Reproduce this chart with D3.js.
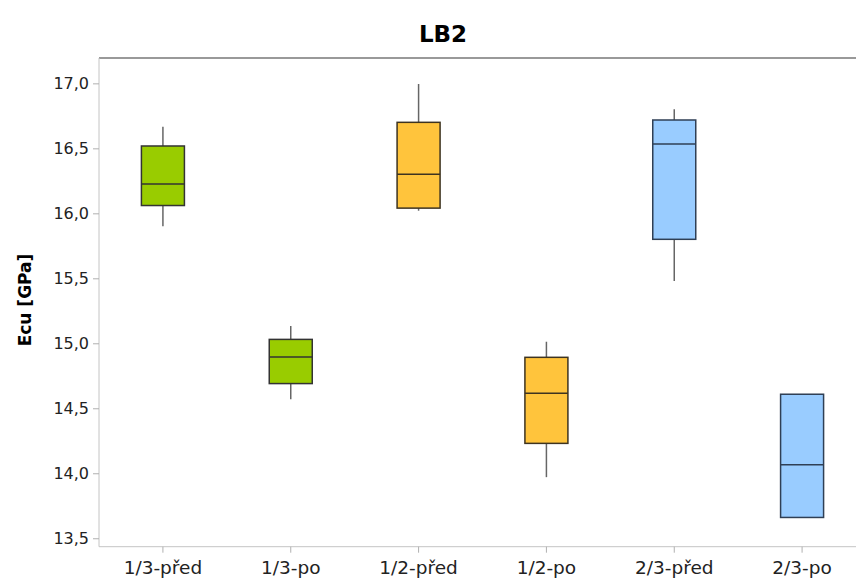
<!DOCTYPE html>
<html>
<head>
<meta charset="utf-8">
<script src="https://cdn.jsdelivr.net/npm/d3@7"></script>
<style>
  body { margin: 0; background: #fff; }
  svg { display: block; }
  text { font-family: "DejaVu Sans", Verdana, sans-serif; fill: #222; }
</style>
</head>
<body>
<svg id="chart" width="856" height="578"></svg>
<script>
// ---- data ----
const categories = ["1/3-před", "1/3-po", "1/2-před", "1/2-po", "2/3-před", "2/3-po"];
const whiskerLow  = [15.90, 14.57, 16.02, 13.97, 15.48, 13.66];
const q1          = [16.06, 14.69, 16.04, 14.23, 15.80, 13.66];
const median      = [16.225, 14.895, 16.30, 14.615, 16.533, 14.066];
const q3          = [16.518, 15.03, 16.70, 14.892, 16.718, 14.608];
const whiskerHigh = [16.666, 15.133, 16.995, 15.012, 16.80, 14.608];
const groups      = ["1/3", "1/3", "1/2", "1/2", "2/3", "2/3"];
const yTicks      = [13.5, 14.0, 14.5, 15.0, 15.5, 16.0, 16.5, 17.0];
const title = "LB2";
const yLabel = "Ecu [GPa]";

const fillColor   = { "1/3": "#99cc00", "1/2": "#ffc43c", "2/3": "#99ccff" };
const strokeColor = { "1/3": "#333333", "1/2": "#3d3320", "2/3": "#2f3f55" };

const rows = categories.map((c, i) => ({
  cat: c, lo: whiskerLow[i], q1: q1[i], med: median[i], q3: q3[i], hi: whiskerHigh[i], g: groups[i]
}));

// ---- layout ----
const mLeft = 99, mTop = 58, mBottom = 546.7, mRight = 866;
const svg = d3.select("#chart");

const x = d3.scaleBand().domain(categories).range([mLeft, mRight]).padding(0);
const y = d3.scaleLinear().domain([13.435, 17.195]).range([mBottom, mTop]);
const boxW = 43;

// title
svg.append("text").attr("x", 443).attr("y", 42).attr("text-anchor", "middle")
  .style("font-size", "23px").style("font-weight", "bold").style("fill", "#000").text(title);

// y label
svg.append("text").attr("transform", `translate(31,300) rotate(-90)`)
  .attr("text-anchor", "middle").style("font-size", "17px").style("font-weight", "bold")
  .style("fill", "#000").text(yLabel);

// top frame line
svg.append("line").attr("x1", mLeft).attr("x2", 856).attr("y1", mTop).attr("y2", mTop)
  .attr("stroke", "#777").attr("stroke-width", 1.6);

// y axis
const yAxis = d3.axisLeft(y).tickValues(yTicks).tickSize(6).tickPadding(4)
  .tickFormat(d => d3.format(".1f")(d).replace(".", ","));
const gy = svg.append("g").attr("transform", `translate(${mLeft},0)`).call(yAxis);
gy.select(".domain").attr("stroke", "#c4c4c4").attr("d", `M0,${mTop}V${mBottom}`);
gy.selectAll(".tick line").attr("stroke", "#b0b0b0");
gy.selectAll(".tick text").style("font-size", "16px").style("font-family", '"DejaVu Sans", Verdana, sans-serif').attr("fill", "#222");

// x axis
const xAxis = d3.axisBottom(x).tickSize(6).tickPadding(8);
const gx = svg.append("g").attr("transform", `translate(0,${mBottom})`).call(xAxis);
gx.select(".domain").attr("stroke", "#c4c4c4").attr("d", `M${mLeft},0H856`);
gx.selectAll(".tick line").attr("stroke", "#b0b0b0");
gx.selectAll(".tick text").style("font-size", "18.5px").style("font-family", '"DejaVu Sans", Verdana, sans-serif').attr("fill", "#222");

// boxes
const g = svg.append("g");
const bx = d => x(d.cat) + x.bandwidth() / 2;

g.selectAll("line.whisker-hi").data(rows).enter().append("line")
  .attr("x1", bx).attr("x2", bx).attr("y1", d => y(d.hi)).attr("y2", d => y(d.q3))
  .attr("stroke", "#666").attr("stroke-width", 1.5);
g.selectAll("line.whisker-lo").data(rows).enter().append("line")
  .attr("x1", bx).attr("x2", bx).attr("y1", d => y(d.q1)).attr("y2", d => y(d.lo))
  .attr("stroke", "#666").attr("stroke-width", 1.5);

g.selectAll("rect.box").data(rows).enter().append("rect")
  .attr("x", d => bx(d) - boxW / 2).attr("width", boxW)
  .attr("y", d => y(d.q3)).attr("height", d => y(d.q1) - y(d.q3))
  .attr("fill", d => fillColor[d.g]).attr("stroke", d => strokeColor[d.g]).attr("stroke-width", 1.5);

g.selectAll("line.median").data(rows).enter().append("line")
  .attr("x1", d => bx(d) - boxW / 2).attr("x2", d => bx(d) + boxW / 2)
  .attr("y1", d => y(d.med)).attr("y2", d => y(d.med))
  .attr("stroke", d => strokeColor[d.g]).attr("stroke-width", 1.5);
</script>
</body>
</html>
